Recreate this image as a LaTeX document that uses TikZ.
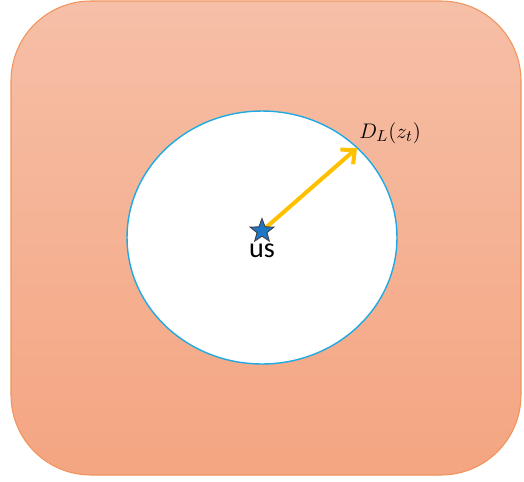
\documentclass[tikz,border=0pt]{standalone}
\usepackage{amsmath}
\usepackage{fontspec}
\usepackage{xcolor}
\usepackage{tikz}
\usetikzlibrary{positioning,shapes.geometric,arrows.meta}
\newfontfamily\labelfont{Carlito}
\definecolor{zonetop}{RGB}{246,191,167}
\definecolor{zonebottom}{RGB}{244,165,129}
\definecolor{zoneedge}{RGB}{240,148,92}
\definecolor{horizon}{RGB}{32,170,226}
\definecolor{ray}{RGB}{255,192,0}
\definecolor{starblue}{RGB}{30,118,196}

\begin{document}
\begin{tikzpicture}[x=0.02cm,y=-0.02cm]
    \useasboundingbox (0,0) rectangle (524,481);
    \draw[draw=zoneedge,line width=0.6pt,top color=zonetop,bottom color=zonebottom,
          rounded corners=1.6cm]
      (11,1) rectangle (521,475);
    \draw[draw=horizon,fill=white,line width=0.8pt]
      (262,237.5) ellipse [x radius=2.7cm,y radius=2.53cm];
    \coordinate (centre) at (262,231);
    \coordinate (rim) at (357,148);
    \draw[ray,line width=2.3pt,-{Straight Barb[length=6pt,width=11pt]}]
      (centre) -- (rim);
    \node[star,star points=5,star point ratio=2.4,fill=starblue,draw=black!75,
          line width=0.5pt,minimum size=0.5cm,inner sep=0pt]
      (us) at (centre) {};
    \node[font=\labelfont\fontsize{16}{16}\selectfont,inner sep=0pt]
      (uslabel) at (262,251) {us};
    \node[above right=0.08cm and 0.04cm of rim,inner sep=0pt,
          font=\fontsize{13}{15}\selectfont]
      (dist) {$D_L(z_t)$};
  \end{tikzpicture}
\end{document}
